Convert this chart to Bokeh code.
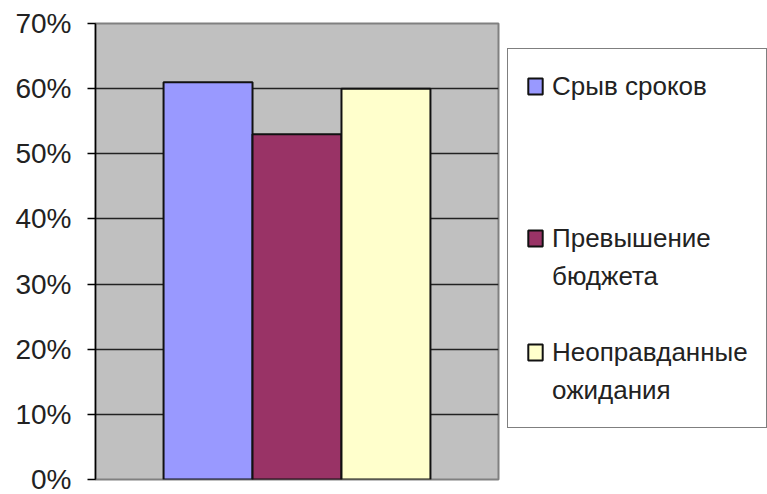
from bokeh.plotting import figure
from bokeh.models import (FactorRange, Range1d, Legend, LegendItem, FixedTicker,
                          NumeralTickFormatter)
from bokeh.embed import file_html
from bokeh.resources import INLINE

# ---- data ----
series = ["Срыв сроков", "Превышение бюджета", "Неоправданные ожидания"]
legend_lines = [["Срыв сроков"], ["Превышение", "бюджета"], ["Неоправданные", "ожидания"]]
values = [0.61, 0.53, 0.60]
colors = ["#9999FF", "#993366", "#FFFFCC"]
y_ticks = [0.0, 0.1, 0.2, 0.3, 0.4, 0.5, 0.6, 0.7]

FONT = "Liberation Sans"

p = figure(x_range=FactorRange(factors=series, range_padding=0.51, range_padding_units="percent"),
           y_range=Range1d(0, 0.7),
           frame_width=403, frame_height=456,
           min_border_left=95, min_border_right=0, min_border_top=23, min_border_bottom=15,
           output_backend="svg", toolbar_location=None, title=None,
           background_fill_color="#C0C0C0", border_fill_color="white")

renderers = []
for name, v, c in zip(series, values, colors):
    r = p.vbar(x=[name], top=[v], width=1.0, fill_color=c, line_color="#111111", line_width=2)
    renderers.append(r)

blank = p.vbar(x=[], top=[], width=1.0, fill_alpha=0, line_alpha=0)

p.xaxis.visible = False
p.xgrid.visible = False

p.yaxis.ticker = FixedTicker(ticks=y_ticks)
p.yaxis.formatter = NumeralTickFormatter(format="0%")
p.yaxis.major_label_text_font = FONT
p.yaxis.major_label_text_font_size = "28px"
p.yaxis.major_label_text_color = "#222222"
p.yaxis.major_tick_out = 8
p.yaxis.major_tick_in = 0
p.yaxis.minor_tick_line_color = None
p.yaxis.major_label_standoff = 16
p.yaxis.axis_line_color = "black"
p.yaxis.axis_line_width = 1.5
p.yaxis.major_tick_line_color = "black"
p.yaxis.major_tick_line_width = 1.5

p.ygrid.ticker = FixedTicker(ticks=y_ticks[:-1])
p.ygrid.grid_line_color = "#222222"
p.ygrid.grid_line_width = 1.5

p.outline_line_color = "#808080"
p.outline_line_width = 2

# legend rows: first line of each entry carries the swatch
rows = []
rows.append(LegendItem(label=legend_lines[0][0], renderers=[renderers[0]]))
for _ in range(3):
    rows.append(LegendItem(label=" ", renderers=[blank]))
rows.append(LegendItem(label=legend_lines[1][0], renderers=[renderers[1]]))
rows.append(LegendItem(label=legend_lines[1][1], renderers=[blank]))
rows.append(LegendItem(label=" ", renderers=[blank]))
rows.append(LegendItem(label=legend_lines[2][0], renderers=[renderers[2]]))
rows.append(LegendItem(label=legend_lines[2][1], renderers=[blank]))

legend = Legend(items=rows, location=(9, 51), orientation="vertical",
                label_text_font=FONT, label_text_font_size="26px", label_text_color="#222222",
                label_text_line_height=1.2,
                label_height=38, glyph_height=20, glyph_width=18, label_standoff=8,
                spacing=0, padding=18, margin=9,
                border_line_color="black", border_line_width=1.5,
                background_fill_color="white", background_fill_alpha=1.0)
p.add_layout(legend, "right")

open("out.html", "w").write(file_html(p, INLINE))
